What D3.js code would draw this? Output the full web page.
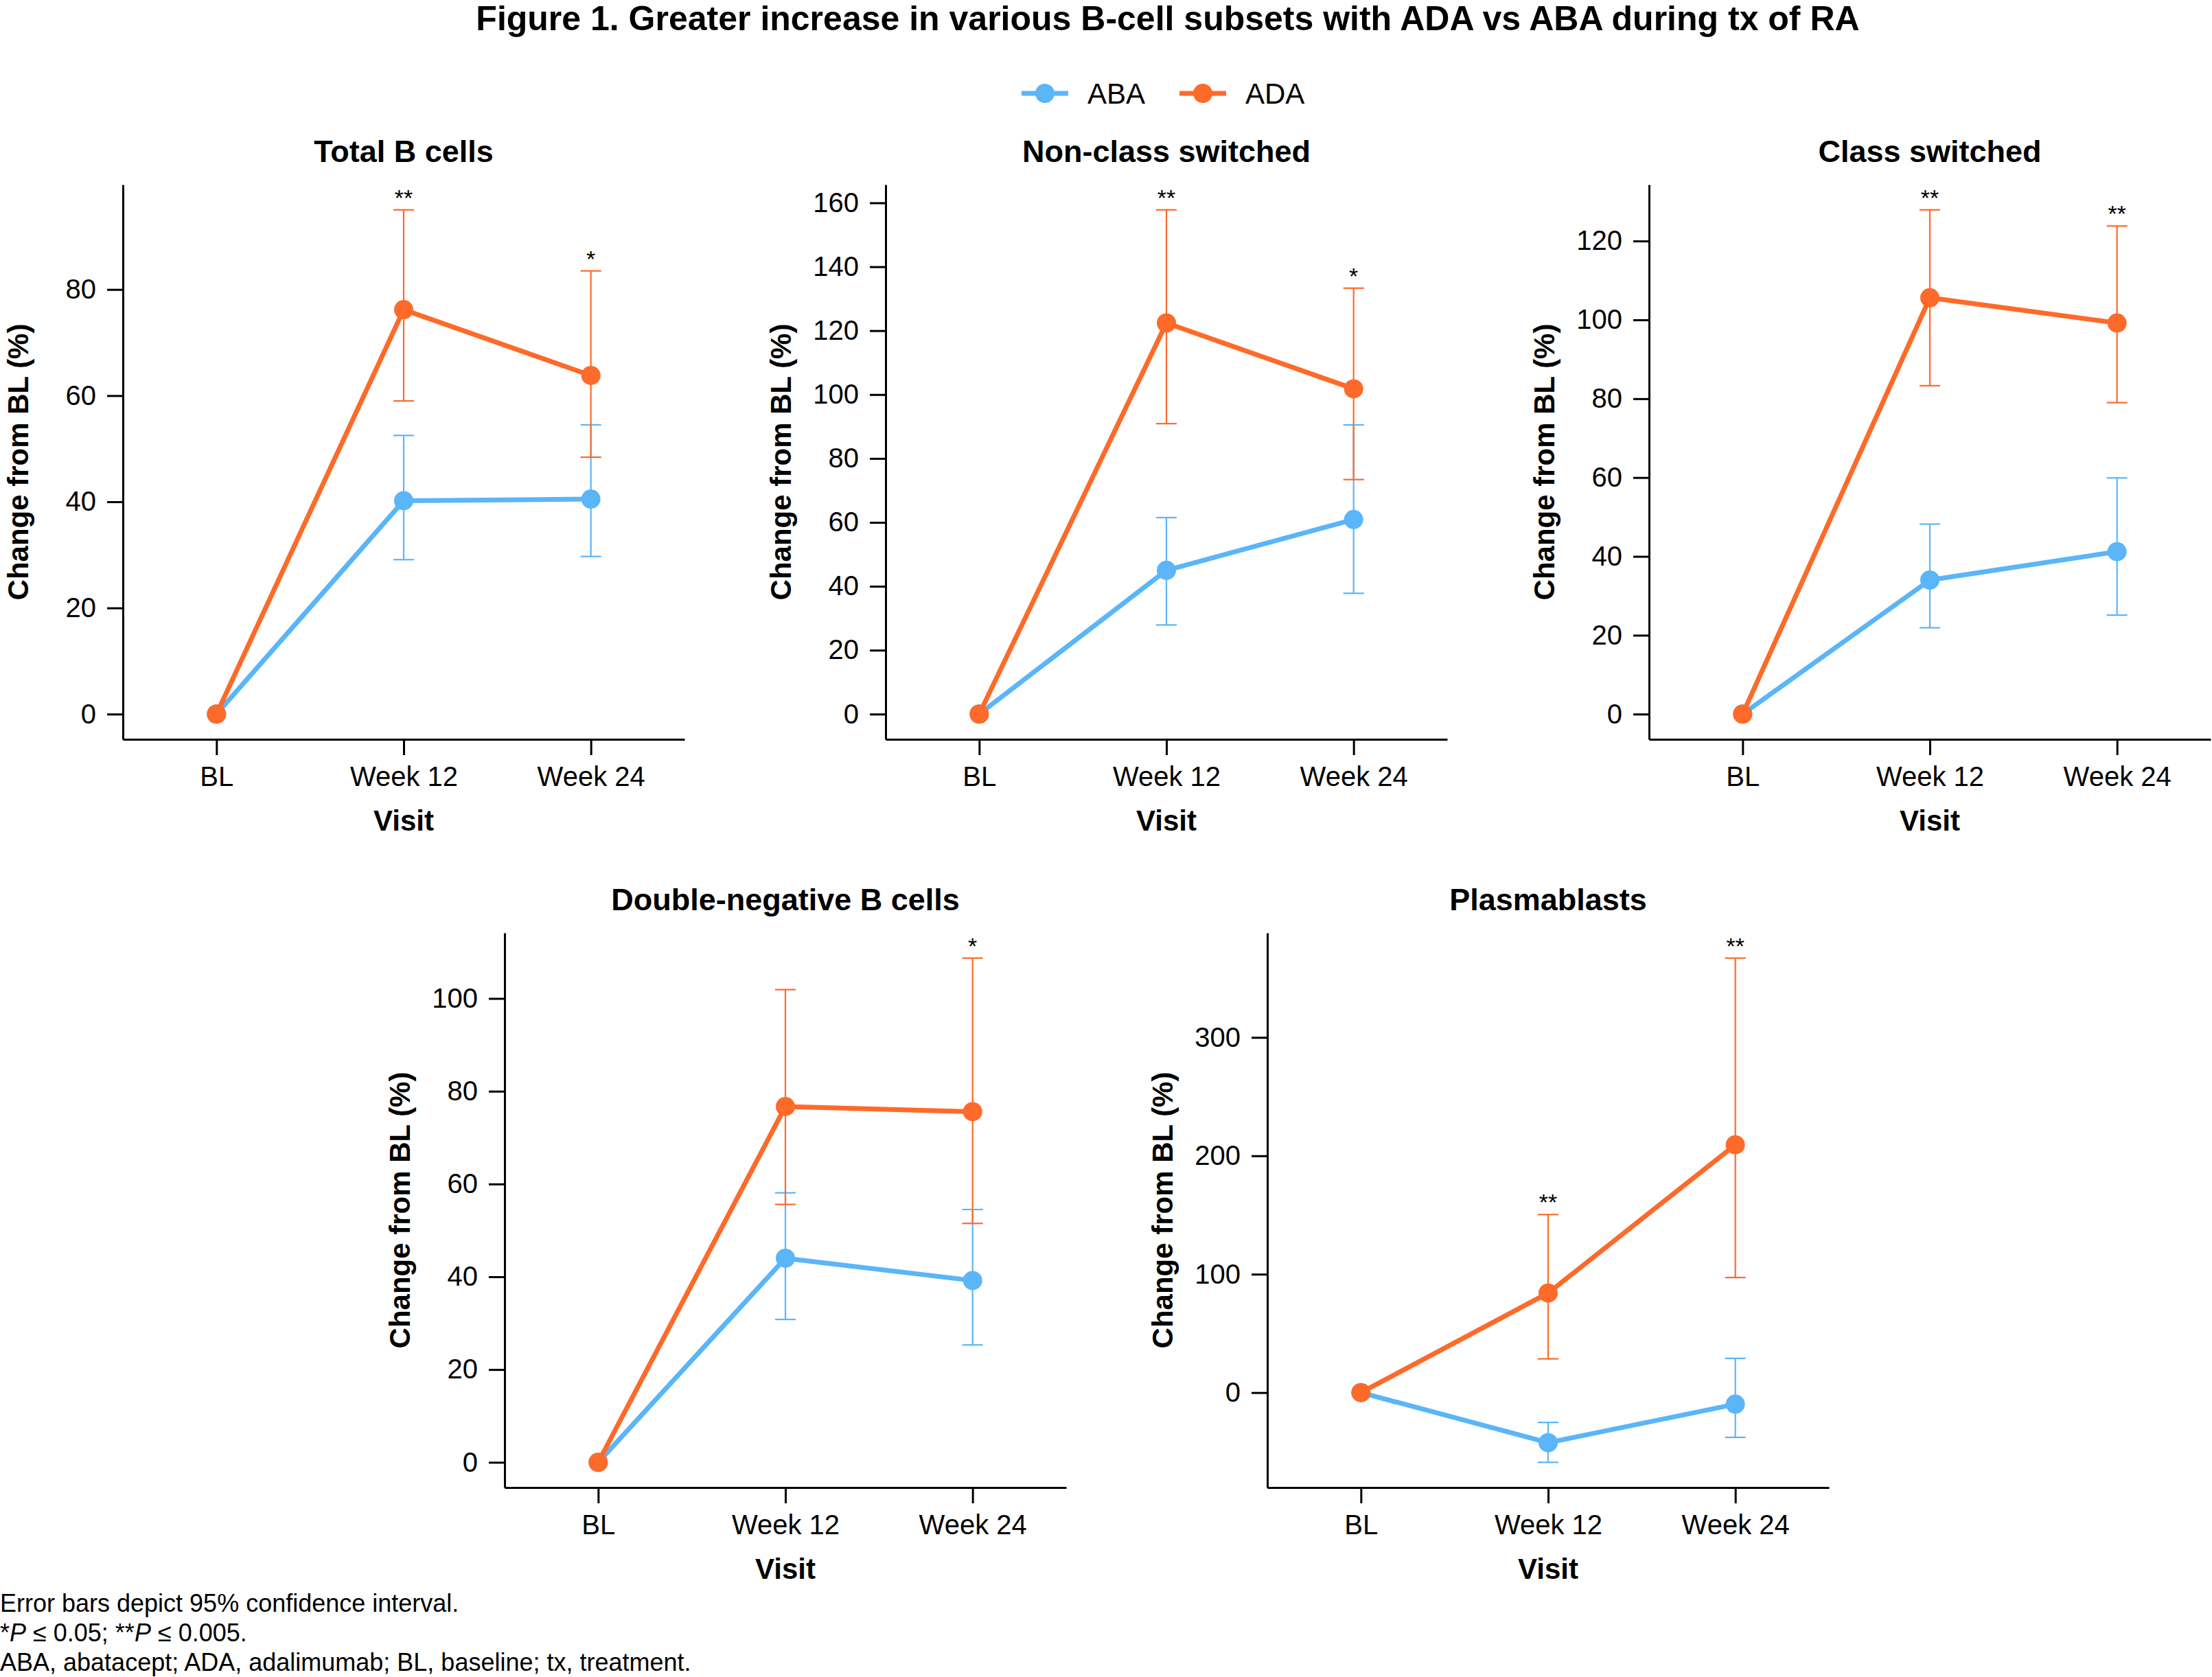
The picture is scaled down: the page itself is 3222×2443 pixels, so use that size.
<!DOCTYPE html>
<html>
<head>
<meta charset="utf-8">
<script src="https://cdn.jsdelivr.net/npm/d3@7"></script>
<style>
  body { margin: 0; background: #fff; }
  text { font-family: "Liberation Sans", Arial, sans-serif; }
</style>
</head>
<body>
<div id="chart"></div>
<script>
// visits on the x axis
const visits = ["BL", "Week 12", "Week 24"];

const panelTitles = ["Total B cells", "Non-class switched", "Class switched",
    "Double-negative B cells", "Plasmablasts"];

// ABA (abatacept) mean change from BL, and 95% CI
const abaMean  = [[0, 40.2, 40.5], [0, 45.0, 60.9], [0, 34.0, 41.2], [0, 44.0, 39.2], [0, -42.3, -9.8]];
const abaLower = [[0, 29.1, 29.7], [0, 27.9, 37.8], [0, 21.9, 25.1], [0, 30.8, 25.3], [0, -58.9, -37.8]];
const abaUpper = [[0, 52.5, 54.5], [0, 61.5, 90.5], [0, 48.2, 59.9], [0, 58.1, 54.5], [0, -25.2, 28.9]];

// ADA (adalimumab) mean change from BL, and 95% CI
const adaMean  = [[0, 76.2, 63.8], [0, 122.4, 101.8], [0, 105.6, 99.2], [0, 76.7, 75.6], [0, 84.1, 209.3]];
const adaLower = [[0, 59.0, 48.4], [0, 90.9, 73.4], [0, 83.3, 79.0], [0, 55.6, 51.5], [0, 28.5, 97.2]];
const adaUpper = [[0, 95.0, 83.5], [0, 157.8, 133.3], [0, 127.9, 123.8], [0, 101.9, 108.7], [0, 150.4, 367.0]];

// significance markers per visit
const stars = [["", "**", "*"], ["", "**", "*"], ["", "**", "**"], ["", "", "*"], ["", "**", "**"]];

// y tick labels per panel
const yTicks = [[0, 20, 40, 60, 80], [0, 20, 40, 60, 80, 100, 120, 140, 160],
    [0, 20, 40, 60, 80, 100, 120], [0, 20, 40, 60, 80, 100], [0, 100, 200, 300]];

const footnotes = ["Error bars depict 95% confidence interval.",
    "ABA, abatacept; ADA, adalimumab; BL, baseline; tx, treatment."];

const width = 3222, height = 2443;
const blue = "#5AB5F9", orange = "#FE6A29";

// where each plot area sits on the page
const origins = [[179, 269], [1290, 269], [2402, 269], [735, 1359], [1846, 1359]];
const plotW = 818, plotH = 808;

const svg = d3.select("#chart").append("svg")
    .attr("width", width)
    .attr("height", height);

svg.append("rect").attr("width", width).attr("height", height).attr("fill", "#fff");

svg.append("text")
    .attr("x", 1701).attr("y", 44)
    .attr("text-anchor", "middle")
    .attr("font-size", 50).attr("font-weight", "bold")
    .text("Figure 1. Greater increase in various B-cell subsets with ADA vs ABA during tx of RA");

// Legend
const legendItems = [{name: "ABA", color: blue, x: 1488}, {name: "ADA", color: orange, x: 1718}];
const legend = svg.selectAll(".legend")
    .data(legendItems)
    .enter()
    .append("g")
    .attr("class", "legend")
    .attr("transform", d => "translate(" + d.x + ",136)");
legend.append("line")
    .attr("x1", 0).attr("x2", 68)
    .attr("stroke", d => d.color).attr("stroke-width", 7);
legend.append("circle")
    .attr("cx", 34).attr("r", 14)
    .attr("fill", d => d.color);
legend.append("text")
    .attr("x", 96).attr("y", 15)
    .attr("font-size", 42)
    .text(d => d.name);

function drawPanel(i) {
    const g = svg.append("g")
        .attr("transform", "translate(" + origins[i][0] + "," + origins[i][1] + ")");

    const x = d3.scalePoint().domain(visits).range([0, plotW]).padding(0.5);

    const lo = d3.min([0, ...abaLower[i], ...adaLower[i]]);
    const hi = d3.max([0, ...abaUpper[i], ...adaUpper[i]]);
    const pad = (hi - lo) * 0.05;
    const y = d3.scaleLinear().domain([lo - pad, hi + pad]).range([plotH, 0]);

    // axes
    const yAxis = g.append("g")
        .call(d3.axisLeft(y).tickValues(yTicks[i]).tickSize(23).tickSizeOuter(0).tickPadding(16));
    const xAxis = g.append("g")
        .attr("transform", "translate(0," + plotH + ")")
        .call(d3.axisBottom(x).tickSize(23).tickSizeOuter(0).tickPadding(17));
    [yAxis, xAxis].forEach(a => {
        a.selectAll("path, line").attr("stroke", "#000").attr("stroke-width", 3);
        a.selectAll("text").attr("font-size", 40).attr("fill", "#000")
            .style("font-family", "'Liberation Sans', Arial, sans-serif");
    });

    g.append("text")
        .attr("x", plotW / 2).attr("y", -33)
        .attr("text-anchor", "middle")
        .attr("font-size", 45).attr("font-weight", "bold")
        .text(panelTitles[i]);

    g.append("text")
        .attr("transform", "translate(-153," + plotH / 2 + ") rotate(-90)")
        .attr("text-anchor", "middle")
        .attr("dy", "0.35em")
        .attr("font-size", 42).attr("font-weight", "bold")
        .text("Change from BL (%)");

    g.append("text")
        .attr("x", plotW / 2).attr("y", plotH + 133)
        .attr("text-anchor", "middle")
        .attr("font-size", 42).attr("font-weight", "bold")
        .text("Visit");

    const series = [
        {mean: abaMean[i], lower: abaLower[i], upper: abaUpper[i], color: blue},
        {mean: adaMean[i], lower: adaLower[i], upper: adaUpper[i], color: orange}
    ];

    series.forEach(s => {
        const pts = visits.map((v, j) => ({v: v, m: s.mean[j], l: s.lower[j], u: s.upper[j]}))
            .filter(d => d.v !== "BL");

        // error bars
        const eb = g.append("g").attr("stroke", s.color).attr("stroke-width", 2.2);
        eb.selectAll(".stem").data(pts).enter().append("line")
            .attr("x1", d => x(d.v)).attr("x2", d => x(d.v))
            .attr("y1", d => y(d.l)).attr("y2", d => y(d.u));
        eb.selectAll(".capHi").data(pts).enter().append("line")
            .attr("x1", d => x(d.v) - 15).attr("x2", d => x(d.v) + 15)
            .attr("y1", d => y(d.u)).attr("y2", d => y(d.u));
        eb.selectAll(".capLo").data(pts).enter().append("line")
            .attr("x1", d => x(d.v) - 15).attr("x2", d => x(d.v) + 15)
            .attr("y1", d => y(d.l)).attr("y2", d => y(d.l));

        const line = d3.line().x((d, j) => x(visits[j])).y(d => y(d));
        g.append("path")
            .datum(s.mean)
            .attr("d", line)
            .attr("fill", "none")
            .attr("stroke", s.color)
            .attr("stroke-width", 7)
            .attr("stroke-linejoin", "round");

        g.selectAll(null)
            .data(s.mean)
            .enter()
            .append("circle")
            .attr("cx", (d, j) => x(visits[j]))
            .attr("cy", d => y(d))
            .attr("r", 14)
            .attr("fill", s.color);
    });

    // significance stars sit just above the ADA upper CI
    g.selectAll(null)
        .data(stars[i])
        .enter()
        .append("text")
        .attr("x", (d, j) => x(visits[j]))
        .attr("y", (d, j) => y(Math.max(adaUpper[i][j], abaUpper[i][j])) - 6)
        .attr("text-anchor", "middle")
        .attr("font-size", 34)
        .text(d => d);
}

for (let i = 0; i < panelTitles.length; i++) drawPanel(i);

// footnotes
const foot = svg.append("g").attr("font-size", 36);
foot.append("text").attr("x", 0).attr("y", 2348).text(footnotes[0]);
const p = foot.append("text").attr("x", 0).attr("y", 2391);
p.append("tspan").text("*");
p.append("tspan").attr("font-style", "italic").text("P");
p.append("tspan").text(" \u2264 0.05; **");
p.append("tspan").attr("font-style", "italic").text("P");
p.append("tspan").text(" \u2264 0.005.");
foot.append("text").attr("x", 0).attr("y", 2434).text(footnotes[1]);
</script>
</body>
</html>
